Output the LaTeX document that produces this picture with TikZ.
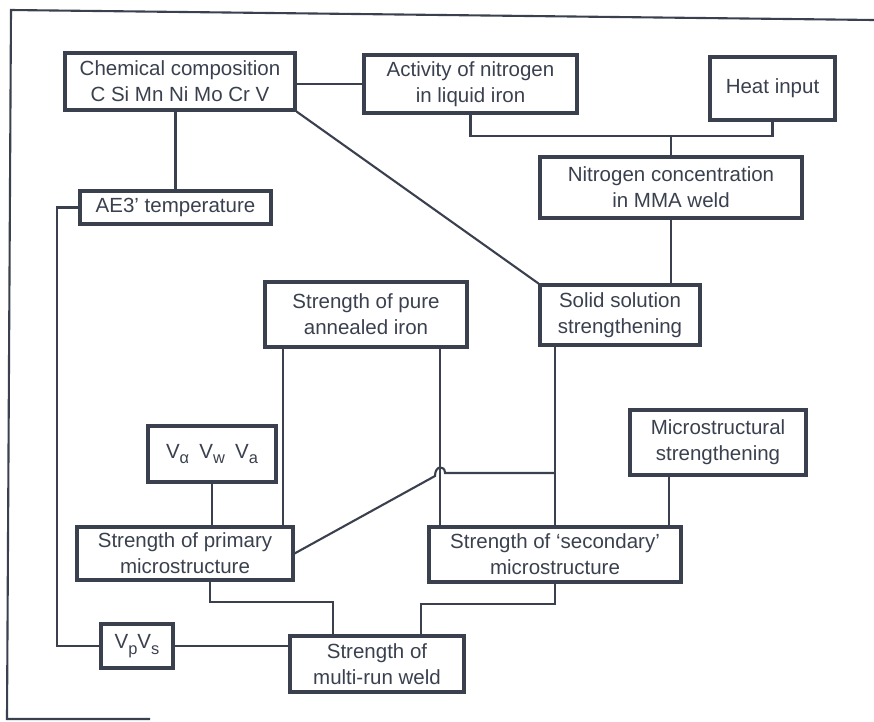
\documentclass[tikz,border=0pt]{standalone}
\usepackage{fontspec}
\setmainfont{Liberation Sans}
\usetikzlibrary{calc}
\definecolor{ink}{RGB}{58,64,78}
\newcommand{\lowsub}[1]{\raisebox{-0.55ex}{\fontsize{14}{14}\selectfont #1}}

\begin{document}
\begin{tikzpicture}[x=0.03cm,y=-0.03cm,
    blk/.style={rectangle,draw=ink,line width=2.6pt,align=center,text=ink,inner sep=0pt,
      font=\fontsize{17.5}{22}\selectfont},
    sz/.style 2 args={minimum width=#1*0.03cm,minimum height=#2*0.03cm},
    wire/.style={draw=ink,line width=1.8pt},
    plate/.style={draw=ink,line width=1.8pt}]
    \useasboundingbox (0,0) rectangle (874,721);
    \draw[plate] (874,20) -- (11,10) -- (7,719) -- (150,719);

    % boxes
    \node[blk,sz={230}{57}] (chem) at (180,81.5) {Chemical composition\\C Si Mn Ni Mo Cr V};
    \node[blk,sz={213}{58}] (act) at (470.5,84) {Activity of nitrogen\\in liquid iron};
    \node[blk,sz={125}{63}] (heat) at (772.5,88.5) {Heat input};
    \node[blk,sz={262}{61}] (nitro) at (671,187.5) {Nitrogen concentration\\in MMA weld};
    \node[blk,sz={191}{33}] (ae3) at (175.5,207.5) {AE3’ temperature};
    \node[blk,sz={160}{60}] (solid) at (620,315) {Solid solution\\strengthening};
    \node[blk,sz={202}{65}] (pure) at (366,314.5) {Strength of pure\\annealed iron};
    \node[blk,sz={128}{56}] (valpha) at (212,454) {V\lowsub{α}\enspace V\lowsub{w}\enspace V\lowsub{a}};
    \node[blk,sz={176}{65}] (micro) at (718,442.5) {Microstructural\\strengthening};
    \node[blk,sz={216}{53}] (primary) at (185,553.5) {Strength of primary\\microstructure};
    \node[blk,sz={252}{55}] (secondary) at (555,554.5) {Strength of ‘secondary’\\microstructure};
    \node[blk,sz={72}{44}] (vpvs) at (137,646) {V\lowsub{p}V\lowsub{s}};
    \node[blk,sz={174}{56}] (multi) at (377,664) {Strength of\\multi-run weld};

    % junctions
    \coordinate (nbus) at (671,136);
    \coordinate (aeb) at (57,207.5);
    \coordinate (pl) at (283,400);
    \coordinate (pr) at (440,400);
    \coordinate (mc) at (669,500);
    \coordinate (sj) at (555,473);
    \coordinate (hopR) at (445,473);
    \coordinate (hopL) at (435,476);
    \coordinate (pmA) at (210,602);
    \coordinate (pmB) at (333,602);
    \coordinate (smA) at (421,604);

    % connectors
    \draw[wire] (chem.east |- act.west) -- (act.west);
    \draw[wire] (chem.south -| ae3.north) -- (ae3.north);
    \draw[wire] (chem.south east) -- (solid.north west);
    \draw[wire] (act.south) |- (nbus) -| (heat.south);
    \draw[wire] (nbus) -- (nitro.north);
    \draw[wire] (nitro.south) -- (nitro.south |- solid.north);
    \draw[wire] (ae3.west) -- (aeb) |- (vpvs.west);
    \draw[wire] (vpvs.east) -- (vpvs.east -| multi.west);
    \draw[wire] (valpha.south) -- (valpha.south |- primary.north);
    \draw[wire] (pl |- pure.south) -- (pl |- primary.north);
    \draw[wire] (pr |- pure.south) -- (pr |- secondary.north);
    \draw[wire] (secondary.north) -- (secondary.north |- solid.south);
    \draw[wire] (mc |- micro.south) -- (mc |- secondary.north);
    \draw[wire] (sj) -- (hopR) .. controls (445,465) and (435,465) .. (hopL) -- (primary.east);
    \draw[wire] (primary.south -| pmA) -- (pmA) -- (pmB) -- (pmB |- multi.north);
    \draw[wire] (secondary.south) |- (smA) -- (smA |- multi.north);
\end{tikzpicture}
\end{document}
